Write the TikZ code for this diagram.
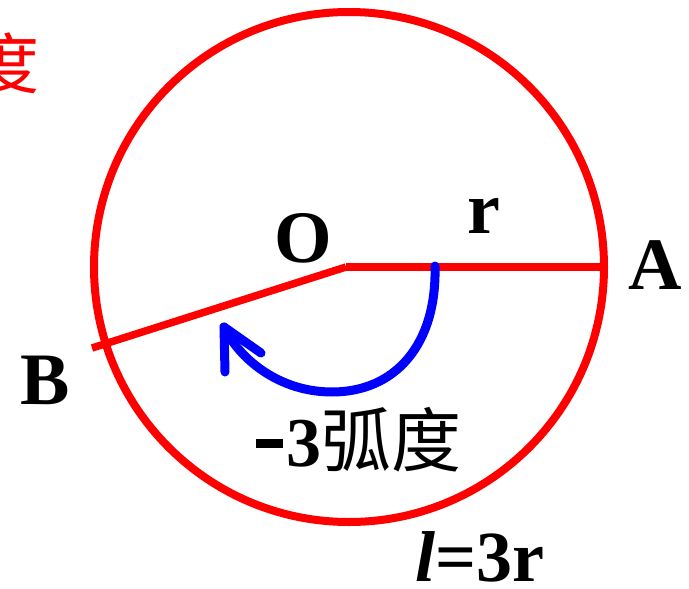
\documentclass[tikz,border=0pt]{standalone}
\usepackage{fontspec}
\setmainfont{Liberation Serif}
\newfontfamily\cjk{Noto Sans CJK SC}
\definecolor{myred}{RGB}{255,0,0}
\definecolor{myblue}{RGB}{0,0,255}
\tikzset{
  lbl/.style={inner sep=0pt, font=\fontsize{74}{80}\selectfont\bfseries},
  redline/.style={draw=myred, line width=7.5pt},
  bluearc/.style={draw=myblue, line width=9pt, line cap=round, line join=round}
}
\begin{document}
\begin{tikzpicture}[x=1pt,y=-1pt]
\useasboundingbox (0,0) rectangle (689,589);
\fill[white] (0,0) rectangle (689,589);
% points
\coordinate (C) at (349,267);
\coordinate (O) at (346,267);
\coordinate (Apt) at (603,267);
\coordinate (Bpt) at (92,348);
% circle
\draw[draw=myred, line width=8pt] (C) circle[radius=255];
% radii
\draw[redline] (O) -- (Apt);
\draw[redline] (O) -- (Bpt);
% blue arc with arrow
\coordinate (s) at (435,266);
\coordinate (m) at (332,392);
\coordinate (t) at (224,327);
\coordinate (h1) at (225,372);
\coordinate (h2) at (261,353);
\draw[bluearc] (s) .. controls (437,345) and (395,392) .. (m)
  .. controls (280,392) and (240,360) .. (t);
\draw[bluearc] (h1) -- (t) -- (h2);
% labels
\node[lbl] (lO) at (303,238) {O};
\node[lbl] (lr) at (484,216) {r};
\node[lbl] (lA) at (655,265) {A};
\node[lbl] (lB) at (45,380) {B};
\node[inner sep=0pt, anchor=base west] (ang) at (256,466)
  {\fontsize{70}{74}\selectfont\bfseries\rule[18pt]{27pt}{9pt}\hspace{3pt}3\cjk\mdseries 弧度};
\node[inner sep=0pt, anchor=base west] (len) at (415,581)
  {\fontsize{72}{76}\selectfont\bfseries\itshape l\upshape =3r};
\node[inner sep=0pt, anchor=base east, text=myred] (deg) at (40,88)
  {\fontsize{66}{70}\selectfont\cjk 度};
\end{tikzpicture}
\end{document}
